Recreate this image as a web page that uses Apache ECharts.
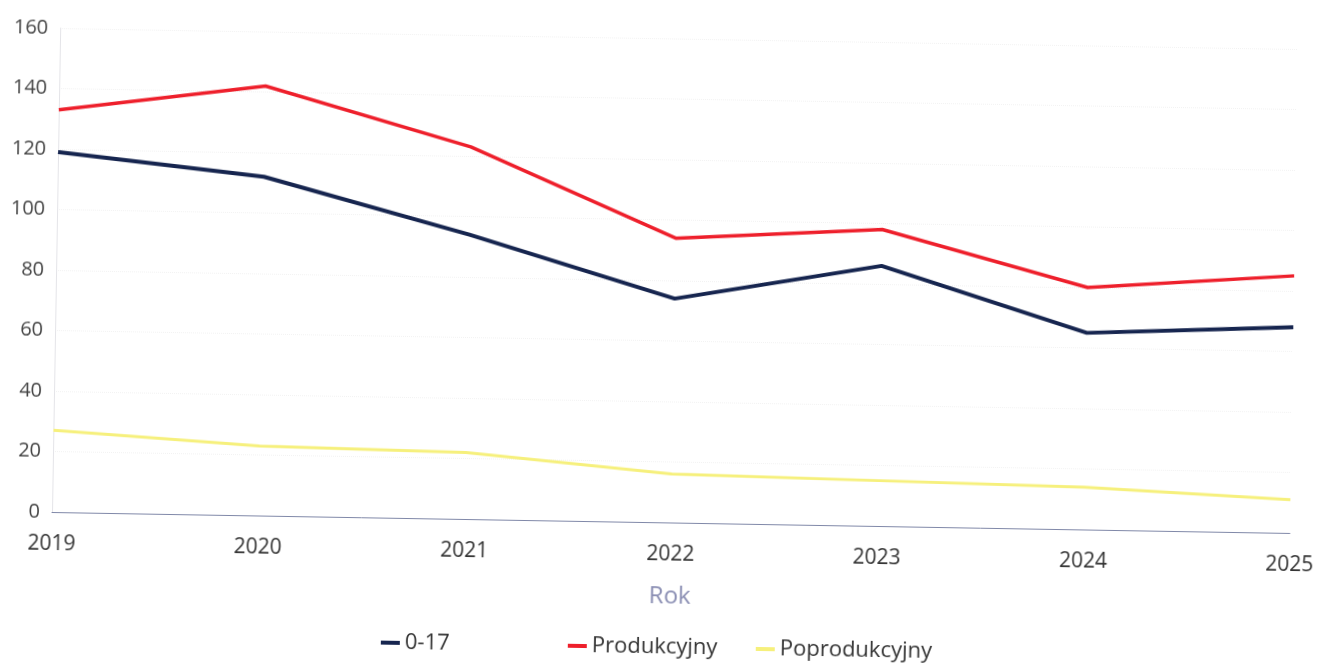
<!DOCTYPE html>
<html>
<head>
<meta charset="utf-8">
<script src="https://cdn.jsdelivr.net/npm/echarts@6/dist/echarts.min.js"></script>
<style>
  html, body { margin: 0; padding: 0; background: #fff; overflow: hidden; }
  /* the source is a slightly tilted scan, so the whole chart is turned a little */
  #chart {
    width: 1317px;
    height: 664px;
    transform: rotate(0.97deg);
    transform-origin: 52px 512px;
  }
</style>
</head>
<body>
<div id="chart"></div>
<script>
const years = ['2019', '2020', '2021', '2022', '2023', '2024', '2025'];
const seriesNames = ['0-17', 'Produkcyjny', 'Poprodukcyjny'];
const young = [119, 112, 94, 74, 86, 65, 68];
const working = [133, 142, 123, 94, 98, 80, 85];
const retired = [27, 23, 22, 16, 15, 14, 11];
const yTicks = [0, 20, 40, 60, 80, 100, 120, 140, 160];

const myChart = echarts.init(document.getElementById('chart'));

const font = '"Open Sans", "Noto Sans", sans-serif';

// one legend block per series, spaced evenly like the source
const legendLeft = [383, 570, 758];
const legends = seriesNames.map(function(name, i) {
  return {
    data: [name],
    top: 626,
    left: legendLeft[i],
    padding: 0,
    itemWidth: 19,
    itemHeight: 4,
    icon: 'rect',
    textStyle: { fontFamily: font, fontSize: 22, color: '#333' }
  };
});

const option = {
  backgroundColor: '#fff',
  textStyle: { fontFamily: font },
  grid: {
    left: 52,
    right: 25,
    top: 28,
    bottom: 152
  },
  legend: legends,
  xAxis: {
    type: 'category',
    data: years,
    boundaryGap: false,
    name: 'Rok',
    nameLocation: 'middle',
    nameGap: 62,
    nameTextStyle: { fontSize: 24, color: '#8a8eb3', fontFamily: font },
    axisLine: { lineStyle: { color: '#8088a8', width: 1 } },
    axisTick: { show: false },
    axisLabel: {
      interval: 0,
      margin: 22,
      fontSize: 21,
      color: '#333',
      fontFamily: font
    },
    splitLine: { show: false }
  },
  yAxis: {
    type: 'value',
    min: yTicks[0],
    max: yTicks[yTicks.length - 1],
    interval: 20,
    axisLine: { show: true, lineStyle: { color: '#e4e4e8', width: 1 } },
    axisTick: { show: false },
    axisLabel: {
      margin: 12,
      fontSize: 20,
      color: '#444',
      fontFamily: font
    },
    splitLine: {
      lineStyle: { type: 'dotted', color: '#f2f2f2', width: 1 }
    }
  },
  series: [
    {
      name: seriesNames[0],
      type: 'line',
      data: young,
      symbol: 'none',
      color: '#16254f',
      lineStyle: { width: 4, color: '#16254f' }
    },
    {
      name: seriesNames[1],
      type: 'line',
      data: working,
      symbol: 'none',
      color: '#ee1f2b',
      lineStyle: { width: 3.5, color: '#ee1f2b' }
    },
    {
      name: seriesNames[2],
      type: 'line',
      data: retired,
      symbol: 'none',
      color: '#f6f07c',
      lineStyle: { width: 3, color: '#f6f07c' }
    }
  ]
};

myChart.setOption(option);
</script>
</body>
</html>
